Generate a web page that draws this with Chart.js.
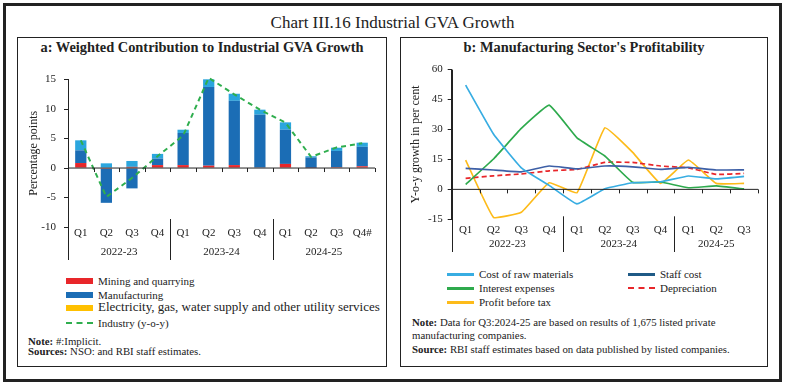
<!DOCTYPE html>
<html>
<head>
<meta charset="utf-8">
<script src="https://cdn.jsdelivr.net/npm/chart.js@4"></script>
<style>
  body { margin: 0; background: #fff; font-family: 'Liberation Serif', serif; color: #222; }
  #page { position: relative; width: 785px; height: 387px; }
  .frame { position: absolute; border: 3px solid #222; box-sizing: border-box; }
  .panel { position: absolute; border: 1.5px solid #222; box-sizing: border-box; }
  .title { position: absolute; left: 0; width: 785px; text-align: center; font-size: 17px; }
  .ptitle { position: absolute; text-align: center; font-size: 14.4px; font-weight: bold; }
  canvas { position: absolute; }
  .leg { position: absolute; font-size: 11px; line-height: 14px; white-space: nowrap; }
  .sw { position: absolute; }
  .note { position: absolute; font-size: 10.8px; white-space: nowrap; }
</style>
</head>
<body>
<div id="page">
  <div class="frame" style="left:3px;top:3px;width:779px;height:379px"></div>
  <div class="title" style="top:13px">Chart III.16 Industrial GVA Growth</div>
  <div class="panel" style="left:17px;top:37px;width:370px;height:330px"></div>
  <div class="panel" style="left:400px;top:37px;width:368px;height:330px"></div>
  <div class="ptitle" style="left:17px;top:39px;width:370px">a: Weighted Contribution to Industrial GVA Growth</div>
  <div class="ptitle" style="left:400px;top:39px;width:368px">b: Manufacturing Sector's Profitability</div>
  <canvas id="gva" width="365" height="200" style="left:20px;top:65px"></canvas>
  <canvas id="profit" width="362" height="200" style="left:403px;top:58px"></canvas>
  <div id="legA"></div>
  <div id="legB"></div>
  <div class="note" style="left:28px;top:335px"><b>Note:</b> #:Implicit.</div>
  <div class="note" style="left:28px;top:345px"><b>Sources:</b> NSO: and RBI staff estimates.</div>
  <div class="note" style="left:412px;top:316px"><b>Note:</b> Data for Q3:2024-25 are based on results of 1,675 listed private</div>
  <div class="note" style="left:412px;top:329px">manufacturing companies.</div>
  <div class="note" style="left:412px;top:343px"><b>Source:</b> RBI staff estimates based on data published by listed companies.</div>
</div>
<script>
// panel a data
const quartersA = ['Q1', 'Q2', 'Q3', 'Q4', 'Q1', 'Q2', 'Q3', 'Q4', 'Q1', 'Q2', 'Q3', 'Q4#'];
const yearsA = ['2022-23', '2023-24', '2024-25'];
const mining = [0.85, -0.15, 0.2, 0.5, 0.5, 0.4, 0.5, 0.1, 0.7, 0.05, 0.15, 0.3];
const manufacturing = [2.15, -5.75, -3.45, 1.1, 5.45, 13.35, 10.9, 8.95, 5.8, 1.75, 2.75, 3.3];
const electricity = [1.7, 0.8, 1.0, 0.8, 0.55, 1.3, 1.2, 0.85, 1.25, 0.2, 0.55, 0.7];
const industry = [4.7, -4.9, -1.7, 2.0, 5.5, 15.3, 12.5, 9.9, 7.7, 1.9, 3.5, 4.2];

// panel b data
const quartersB = ['Q1', 'Q2', 'Q3', 'Q4', 'Q1', 'Q2', 'Q3', 'Q4', 'Q1', 'Q2', 'Q3'];
const yearsB = ['2022-23', '2023-24', '2024-25'];
const rawMaterials = [52.2, 27.7, 10.8, 2.0, -7.3, 0.3, 3.3, 3.8, 6.7, 5.3, 6.5];
const staffCost = [10.5, 9.7, 8.8, 11.7, 10.3, 11.7, 11.3, 10.0, 11.0, 9.7, 9.8];
const interestExp = [2.5, 15.2, 30.5, 42.2, 25.8, 16.7, 3.5, 3.7, 0.8, 1.7, 0.2];
const depreciation = [5.5, 6.8, 7.7, 9.3, 10.0, 13.5, 13.5, 11.7, 10.8, 7.5, 8.0];
const profitBT = [14.7, -14.0, -11.5, 3.3, -1.7, 30.8, 18.5, 3.0, 14.7, 3.0, 3.0];

Chart.defaults.font.family = "'Liberation Serif', serif";
Chart.defaults.font.size = 11;
Chart.defaults.color = '#222';
Chart.defaults.animation = false;

// zero line, boundary ticks, group separators and year labels
const axisDeco = {
  id: 'axisDeco',
  afterDraw(chart, args, o) {
    const ctx = chart.ctx, x = chart.scales.x, y = chart.scales.y, ca = chart.chartArea;
    const n = chart.data.labels.length;
    const zero = y.getPixelForValue(0);
    ctx.save();
    ctx.strokeStyle = '#222';
    ctx.lineWidth = 1;
    ctx.beginPath();
    ctx.moveTo(ca.left, zero); ctx.lineTo(ca.right, zero);
    for (let i = 0; i <= n; i++) {
      const bx = Math.round(x.getPixelForValue(i - 0.5)) + 0.5;
      ctx.moveTo(bx, zero); ctx.lineTo(bx, zero + 4);
    }
    const lx = Math.round(ca.left) + 0.5;
    ctx.moveTo(lx, ca.top); ctx.lineTo(lx, o.sepBottom);
    let start = 0;
    ctx.fillStyle = '#222';
    ctx.font = "11px 'Liberation Serif', serif";
    ctx.textAlign = 'center';
    ctx.textBaseline = 'middle';
    o.groups.forEach((g, k) => {
      const end = start + g;
      if (end < n) {
        const sx = Math.round(x.getPixelForValue(end - 0.5)) + 0.5;
        ctx.moveTo(sx, ca.bottom + o.sepTop); ctx.lineTo(sx, o.sepBottom);
      }
      const cx = (x.getPixelForValue(start - 0.5) + x.getPixelForValue(end - 0.5)) / 2;
      ctx.fillText(o.years[k], cx, ca.bottom + o.yearY);
      start = end;
    });
    ctx.stroke();
    ctx.restore();
  }
};

new Chart(document.getElementById('gva'), {
  type: 'bar',
  data: {
    labels: quartersA,
    datasets: [
      { label: 'Mining and quarrying', data: mining, backgroundColor: '#e8262a', order: 2 },
      { label: 'Manufacturing', data: manufacturing, backgroundColor: '#1b6db5', order: 2 },
      { label: 'Electricity, gas, water supply and other utility services', data: electricity, backgroundColor: '#2ba6de', order: 2 },
      { type: 'line', label: 'Industry (y-o-y)', data: industry, borderColor: '#2fae4e', borderWidth: 2,
        borderDash: [5, 4], pointRadius: 0, fill: false, order: 1, clip: false }
    ]
  },
  options: {
    responsive: false,
    layout: { padding: { left: 0, right: 10, top: 3, bottom: 0 } },
    datasets: { bar: { barPercentage: 0.44, categoryPercentage: 1, borderWidth: 0, clip: false } },
    plugins: {
      legend: { display: false },
      tooltip: { enabled: false },
      axisDeco: { groups: [4, 4, 4], years: yearsA, sepTop: -8, sepBottom: 195, yearY: 25 }
    },
    scales: {
      x: {
        stacked: true,
        grid: { display: false, drawTicks: false },
        border: { display: false },
        ticks: { padding: 0, maxRotation: 0, autoSkip: false },
        afterFit: s => { s.height = 38; }
      },
      y: {
        stacked: true,
        min: -10, max: 15,
        ticks: { stepSize: 5, padding: 8 },
        grid: { drawOnChartArea: false, tickLength: 4, color: '#222' },
        border: { display: true, color: '#222' },
        title: { display: true, text: 'Percentage points', font: { size: 12 }, padding: { top: 7, bottom: 0 } },
        afterFit: s => { s.width = 48; }
      }
    }
  },
  plugins: [axisDeco]
});

new Chart(document.getElementById('profit'), {
  type: 'line',
  data: {
    labels: quartersB,
    datasets: [
      { label: 'Cost of raw materials', data: rawMaterials, borderColor: '#38ade2' },
      { label: 'Staff cost', data: staffCost, borderColor: '#3d5fa6' },
      { label: 'Interest expenses', data: interestExp, borderColor: '#2eaa4d' },
      { label: 'Depreciation', data: depreciation, borderColor: '#e8262a', borderDash: [5, 3] },
      { label: 'Profit before tax', data: profitBT, borderColor: '#fdbb1a' }
    ]
  },
  options: {
    responsive: false,
    layout: { padding: { left: 0, right: 7, top: 5, bottom: 0 } },
    datasets: { line: { borderWidth: 1.7, pointRadius: 0, fill: false, tension: 0.1 } },
    plugins: {
      legend: { display: false },
      tooltip: { enabled: false },
      axisDeco: { groups: [4, 4, 3], years: yearsB, sepTop: -3, sepBottom: 194, yearY: 25 }
    },
    scales: {
      x: {
        offset: true,
        grid: { display: false, offset: true, drawTicks: false },
        border: { display: false },
        ticks: { padding: 4, maxRotation: 0, autoSkip: false },
        afterFit: s => { s.height = 38.7; }
      },
      y: {
        min: -15, max: 60,
        ticks: { stepSize: 15, padding: 5 },
        grid: { drawOnChartArea: false, tickLength: 4, color: '#222' },
        border: { display: true, color: '#222' },
        title: { display: true, text: 'Y-o-y growth in per cent', font: { size: 12 }, padding: { top: 6, bottom: 0 } },
        afterFit: s => { s.width = 48.7; }
      }
    }
  },
  plugins: [axisDeco]
});

// legends
function swatch(kind, color) {
  if (kind === 'box') return `<div class="sw" style="left:0;top:4px;width:27px;height:6px;background:${color}"></div>`;
  if (kind === 'dash') return `<div class="sw" style="left:0;top:6px;width:27px;height:0;border-top:2px dashed ${color}"></div>`;
  return `<div class="sw" style="left:0;top:6px;width:27px;height:2.5px;background:${color}"></div>`;
}
const legA = [
  ['box', '#e8262a', 'Mining and quarrying', 66, 274, 11],
  ['box', '#1b6db5', 'Manufacturing', 66, 288, 11],
  ['box', '#ffc000', 'Electricity, gas, water supply and other utility services', 66, 301, 13],
  ['dash', '#2fae4e', 'Industry (y-o-y)', 66, 316, 11]
];
const legB = [
  ['line', '#38ade2', 'Cost of raw materials', 447, 267],
  ['line', '#1f5a86', 'Staff cost', 628, 267],
  ['line', '#2eaa4d', 'Interest expenses', 447, 281],
  ['dash', '#e8262a', 'Depreciation', 628, 281],
  ['line', '#fdbb1a', 'Profit before tax', 447, 295]
];
document.getElementById('legA').innerHTML = legA.map(([k, c, t, l, tp, fs]) =>
  `<div class="leg" style="left:${l}px;top:${tp}px;width:320px;height:14px">${swatch(k, c)}<span style="position:absolute;left:32px;top:${fs > 12 ? -1 : 0}px;font-size:${fs}px">${t}</span></div>`).join('');
document.getElementById('legB').innerHTML = legB.map(([k, c, t, l, tp]) =>
  `<div class="leg" style="left:${l}px;top:${tp}px;width:150px;height:14px">${swatch(k, c)}<span style="position:absolute;left:32px;top:0;font-size:11px">${t}</span></div>`).join('');
</script>
</body>
</html>
